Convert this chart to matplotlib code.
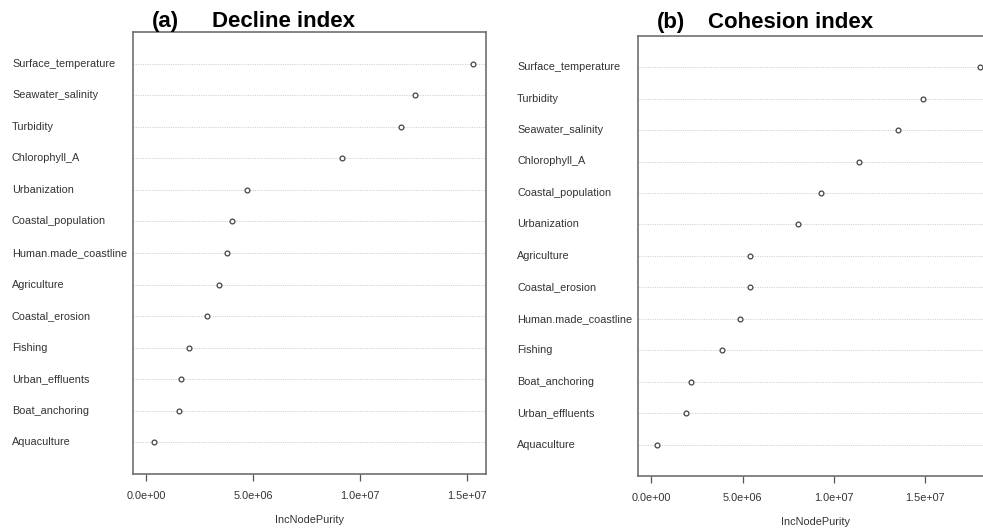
import matplotlib
matplotlib.use("Agg")
import matplotlib.pyplot as plt
import matplotlib.transforms as mtransforms

plt.rcParams['font.family'] = ['Liberation Sans', 'DejaVu Sans']

# panel (a) Decline index, top to bottom
decline_vars = ["Surface_temperature", "Seawater_salinity", "Turbidity", "Chlorophyll_A",
                "Urbanization", "Coastal_population", "Human.made_coastline", "Agriculture",
                "Coastal_erosion", "Fishing", "Urban_effluents", "Boat_anchoring", "Aquaculture"]
decline_vals = [15.28e6, 12.55e6, 11.92e6, 9.17e6, 4.73e6, 4.03e6, 3.78e6, 3.39e6,
                2.85e6, 2.02e6, 1.65e6, 1.52e6, 0.39e6]

# panel (b) Cohesion index, top to bottom
cohesion_vars = ["Surface_temperature", "Turbidity", "Seawater_salinity", "Chlorophyll_A",
                 "Coastal_population", "Urbanization", "Agriculture", "Coastal_erosion",
                 "Human.made_coastline", "Fishing", "Boat_anchoring", "Urban_effluents", "Aquaculture"]
cohesion_vals = [18.0e6, 14.87e6, 13.5e6, 11.39e6, 9.27e6, 8.04e6, 5.42e6, 5.40e6,
                 4.86e6, 3.85e6, 2.16e6, 1.91e6, 0.31e6]

xticks = [0, 5e6, 1e7, 1.5e7]
xtick_labels = ["0.0e+00", "5.0e+06", "1.0e+07", "1.5e+07"]

W, H = 983, 528
fig = plt.figure(figsize=(W / 100, H / 100), dpi=100)
TXT = '#333333'


def dotplot(rect, names, vals, label_x, tag, title, tag_x, title_x, title_y):
    ax = fig.add_axes(rect)
    n = len(vals)
    ys = list(range(n, 0, -1))
    for y in ys:
        ax.axhline(y, color='#d0d0d0', lw=0.7, ls=(0, (1.2, 1.2)), zorder=1)
    ax.scatter(vals, ys, s=12, facecolors='white', edgecolors='#444444', linewidths=0.9, zorder=3)
    xmax = max(vals)
    pad = 0.04 * xmax
    ax.set_xlim(-pad, xmax + pad)
    ax.set_ylim(0, n + 1)
    ax.set_yticks([])
    ax.set_xticks(xticks)
    ax.set_xticklabels(xtick_labels, fontsize=7.8, color=TXT)
    ax.tick_params(axis='x', length=5, width=0.9, color='#555555', pad=7)
    for sp in ax.spines.values():
        sp.set_color('#707070')
        sp.set_linewidth(1.2)
    ax.set_xlabel("IncNodePurity", fontsize=7.8, color=TXT, labelpad=10)
    tr = mtransforms.blended_transform_factory(fig.transFigure, ax.transData)
    for name, y in zip(names, ys):
        ax.text(label_x, y, name, transform=tr, ha='left', va='center',
                fontsize=7.8, color=TXT)
    fig.text(tag_x, title_y, tag, ha='center', va='baseline', fontsize=16, fontweight='bold')
    fig.text(title_x, title_y, title, ha='center', va='baseline', fontsize=16, fontweight='bold')
    return ax


dotplot([133 / W, (H - 474) / H, 353 / W, 442 / H], decline_vars, decline_vals,
        12 / W, "(a)", "Decline index", 165 / W, 284 / W, 1 - 27 / H)
dotplot([638.3 / W, (H - 476) / H, 355 / W, 440.3 / H], cohesion_vars, cohesion_vals,
        517 / W, "(b)", "Cohesion index", 671 / W, 791 / W, 1 - 28 / H)

fig.savefig("out.png", dpi=100)
